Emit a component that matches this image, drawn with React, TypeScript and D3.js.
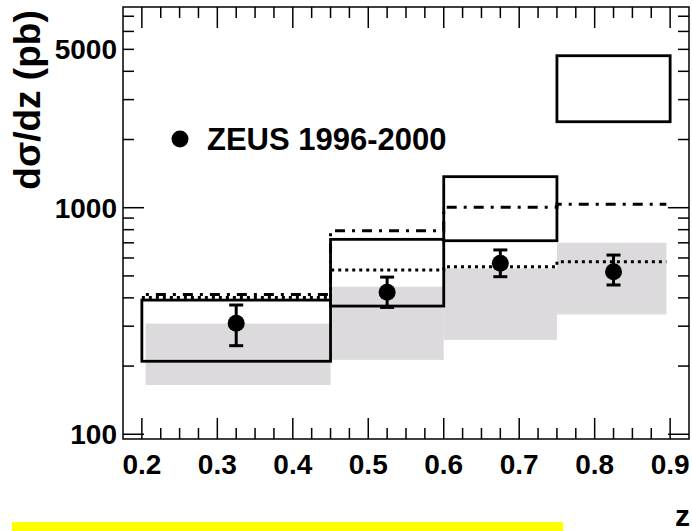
import React from "react";
import * as d3 from "d3";

// ---- data ----
const binLo = [0.2, 0.45, 0.6, 0.75];
const binHi = [0.45, 0.6, 0.75, 0.9];
const zeusX = [0.325, 0.525, 0.675, 0.825];
const zeusY = [309, 423, 568, 522];
const zeusErrUp = [372, 494, 651, 618];
const zeusErrDn = [246, 363, 496, 456];
const boxHi = [391, 725, 1371, 4687];
const boxLo = [210, 368, 715, 2396];
const bandX0 = [0.205, 0.45, 0.6, 0.75];
const bandX1 = [0.45, 0.6, 0.75, 0.895];
const bandHi = [308, 448, 540, 700];
const bandLo = [165, 213, 261, 338];
const dashDotY = [414, 792, 1004, 1035];
const dottedY = [401, 531, 549, 578];
const curveEnd = 0.895;
const xTicks = [0.2, 0.3, 0.4, 0.5, 0.6, 0.7, 0.8, 0.9];
const yLabelTicks = [100, 1000, 5000];
const legendLabel = "ZEUS 1996-2000";

const W = 692, H = 531;
const L = 123, R = 689, T = 7, B = 439;
const x = d3.scaleLinear().domain([0.175, 0.925]).range([L, R]);
const y = d3.scaleLog().domain([95.3, 7690]).range([B, T]);

const FONT = "'Liberation Sans', Arial, Helvetica, sans-serif";

function stepPath(vals: number[]) {
  const pts: [number, number][] = binLo.map((b, i) => [b, vals[i]]);
  pts.push([curveEnd, vals[vals.length - 1]]);
  const line = d3
    .line<[number, number]>()
    .x((d) => x(d[0]))
    .y((d) => y(d[1]))
    .curve(d3.curveStepAfter);
  return line(pts) || "";
}

export default function App() {
  const minorX = d3.range(0, 31).map((i) => 0.175 + i * 0.025).filter((v) => v > 0.176 && v < 0.924);
  const isMajorX = (v: number) => Math.abs(v * 10 - Math.round(v * 10)) < 1e-6;
  const yMinor: number[] = [];
  for (const dec of [100, 1000]) for (let k = 1; k <= 9; k++) yMinor.push(dec * k);
  const yTicks = yMinor.filter((v) => v >= 95.3 && v <= 7690);
  const isMajorY = (v: number) => v === 100 || v === 1000;

  return (
    <svg width={W} height={H} style={{ position: "absolute", left: 0, top: 0, background: "#fff" }}>
      <rect x={0} y={0} width={W} height={H} fill="#fff" />
      {/* grey bands */}
      {bandHi.map((h, i) => (
        <rect key={"band" + i} x={x(bandX0[i])} y={y(h)} width={x(bandX1[i]) - x(bandX0[i])} height={y(bandLo[i]) - y(h)} fill="#dcdadc" />
      ))}
      {/* boxes */}
      {boxHi.map((h, i) => (
        <rect key={"box" + i} x={x(binLo[i])} y={y(h)} width={x(binHi[i]) - x(binLo[i])} height={y(boxLo[i]) - y(h)} fill="none" stroke="#000" strokeWidth={2.8} />
      ))}
      {/* theory lines */}
      <path d={stepPath(dashDotY)} fill="none" stroke="#000" strokeWidth={3} strokeDasharray="10 7 3 7" strokeDashoffset={-14} />
      <path d={stepPath(dottedY)} fill="none" stroke="#000" strokeWidth={3} strokeDasharray="3 4" />
      {/* data points */}
      {zeusX.map((v, i) => (
        <g key={"pt" + i}>
          <line x1={x(v)} x2={x(v)} y1={y(zeusErrUp[i])} y2={y(zeusErrDn[i])} stroke="#000" strokeWidth={3} />
          <line x1={x(v) - 7} x2={x(v) + 7} y1={y(zeusErrUp[i])} y2={y(zeusErrUp[i])} stroke="#000" strokeWidth={3} />
          <line x1={x(v) - 7} x2={x(v) + 7} y1={y(zeusErrDn[i])} y2={y(zeusErrDn[i])} stroke="#000" strokeWidth={3} />
          <circle cx={x(v)} cy={y(zeusY[i])} r={8.5} fill="#000" />
        </g>
      ))}
      {/* frame */}
      <rect x={L} y={T} width={R - L} height={B - T} fill="none" stroke="#000" strokeWidth={1.5} />
      {/* x ticks */}
      {minorX.map((v, i) => {
        const len = isMajorX(v) ? 21 : 11;
        return (
          <g key={"xt" + i}>
            <line x1={x(v)} x2={x(v)} y1={B} y2={B - len} stroke="#000" strokeWidth={1.5} />
            <line x1={x(v)} x2={x(v)} y1={T} y2={T + len} stroke="#000" strokeWidth={1.5} />
          </g>
        );
      })}
      {/* y ticks */}
      {yTicks.map((v, i) => {
        const len = isMajorY(v) ? 21 : 11;
        return (
          <g key={"yt" + i}>
            <line x1={L} x2={L + len} y1={y(v)} y2={y(v)} stroke="#000" strokeWidth={1.5} />
            <line x1={R} x2={R - len} y1={y(v)} y2={y(v)} stroke="#000" strokeWidth={1.5} />
          </g>
        );
      })}
      {/* tick labels */}
      {xTicks.map((v, i) => (
        <text key={"xl" + i} x={x(v)} y={474} textAnchor="middle" fontFamily={FONT} fontWeight="bold" fontSize={28}>
          {v.toFixed(1)}
        </text>
      ))}
      {yLabelTicks.map((v, i) => (
        <text key={"yl" + i} x={117} y={y(v) + 10} textAnchor="end" fontFamily={FONT} fontWeight="bold" fontSize={28}>
          {v}
        </text>
      ))}
      {/* axis titles */}
      <text transform={`translate(40,100) rotate(-90)`} textAnchor="middle" fontFamily={FONT} fontWeight="bold" fontSize={37}>
        dσ/dz (pb)
      </text>
      <text x={690} y={526} textAnchor="end" fontFamily={FONT} fontWeight="bold" fontSize={30}>
        z
      </text>
      {/* legend */}
      <circle cx={180} cy={139} r={8.5} fill="#000" />
      <text x={207} y={150} fontFamily={FONT} fontWeight="bold" fontSize={31}>
        {legendLabel}
      </text>
      {/* yellow bar */}
      <rect x={12} y={522} width={551} height={9} fill="#ffff00" />
    </svg>
  );
}
